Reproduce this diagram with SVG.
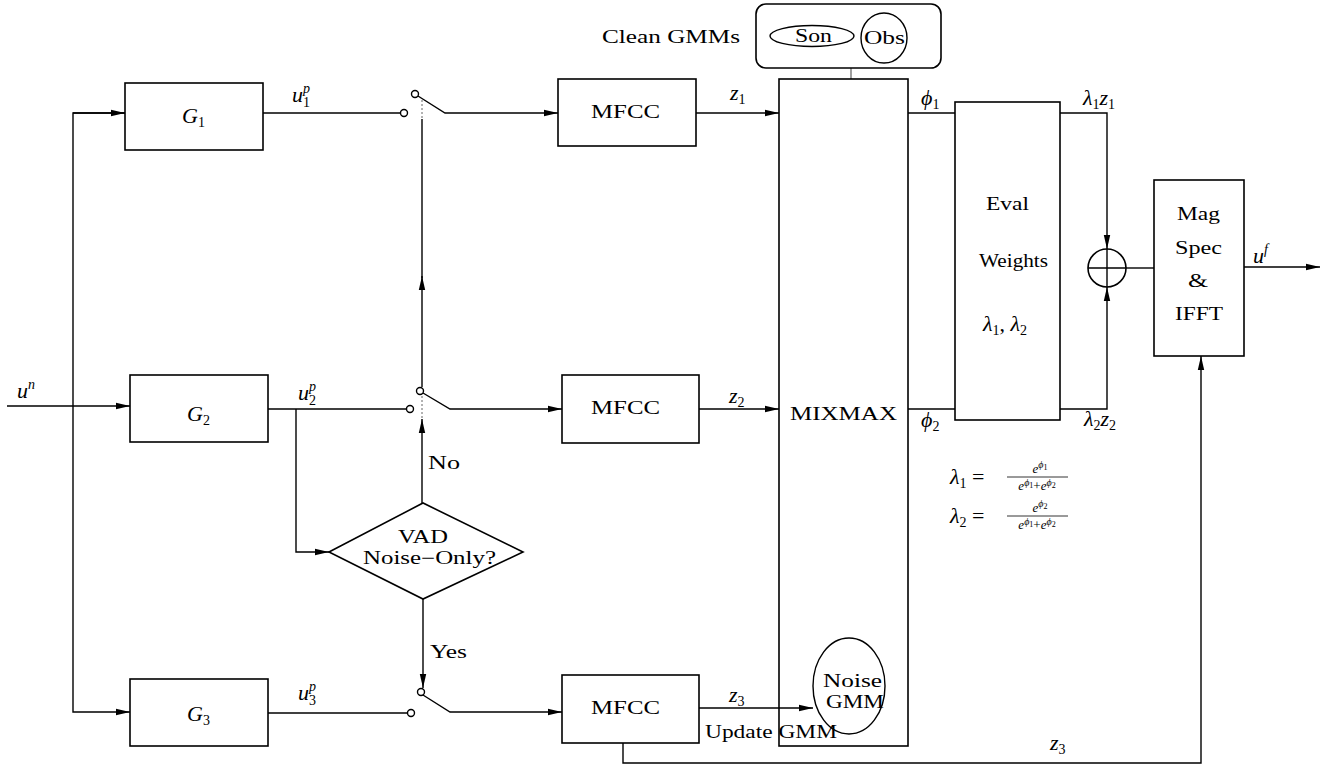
<svg xmlns="http://www.w3.org/2000/svg" width="1332" height="765" viewBox="0 0 1332 765">
<style>
.box{fill:#fff;stroke:#000;stroke-width:1.6}
.ln{fill:none;stroke:#000;stroke-width:1.4}
.t{font-family:"Liberation Serif","DejaVu Serif",serif;font-size:18px;fill:#000}
.m{font-style:italic;font-size:22px}
.s{font-style:normal;font-size:14px}
.si{font-style:italic;font-size:14px}
.f{font-family:"Liberation Serif","DejaVu Serif",serif;font-size:13px;fill:#000}
.fi{font-style:italic}
.fs{font-style:italic;font-size:10px}
.fn{font-style:normal;font-size:8px}
</style>
<defs>
<marker id="ah" viewBox="0 0 14 10" refX="14" refY="5" markerWidth="14" markerHeight="10" markerUnits="userSpaceOnUse" orient="auto"><path d="M0,1.8 L14,5 L0,8.2 z" fill="#000"/></marker>
</defs>
<rect width="1332" height="765" fill="#fff"/>

<g id="connectors">
<path class="ln" d="M7,406 H130" marker-end="url(#ah)"/>
<path class="ln" d="M125,113 H73 V712 H130" marker-end="url(#ah)"/>
<path class="ln" d="M73,113 H125" marker-end="url(#ah)"/>
<path class="ln" d="M263,113 H400"/>
<path class="ln" d="M418,96 L445,113 H558" marker-end="url(#ah)"/>
<path d="M422,100 V119" stroke="#666" stroke-width="1" stroke-dasharray="2,2"/>
<path class="ln" d="M422,387 V276" marker-end="url(#ah)"/>
<path class="ln" d="M422,278 V119"/>
<path class="ln" d="M268,409 H406"/>
<path class="ln" d="M423,393 L450,409 H562" marker-end="url(#ah)"/>
<path d="M422,396 V419" stroke="#666" stroke-width="1" stroke-dasharray="2,2"/>
<path class="ln" d="M296,409 V552 H329" marker-end="url(#ah)"/>
<path class="ln" d="M422,503 V419" marker-end="url(#ah)"/>
<path class="ln" d="M423,599 V688" marker-end="url(#ah)"/>
<path class="ln" d="M268,713 H407"/>
<path class="ln" d="M423,695 L450,712 H562" marker-end="url(#ah)"/>
<path class="ln" d="M696,113 H779" marker-end="url(#ah)"/>
<path class="ln" d="M699,409 H779" marker-end="url(#ah)"/>
<path class="ln" d="M908,113 H955"/>
<path class="ln" d="M908,409 H955"/>
<path class="ln" d="M1060,113 H1107 V249" marker-end="url(#ah)"/>
<path class="ln" d="M1060,409 H1107 V287" marker-end="url(#ah)"/>
<path class="ln" d="M1126,268 H1154"/>
<path class="ln" d="M1244,267 H1320" marker-end="url(#ah)"/>
<path class="ln" d="M623,743 V763 H1201 V356" marker-end="url(#ah)"/>
<path d="M851,68 V79" stroke="#777" stroke-width="1.4"/>
</g>

<g id="G1"><rect class="box" x="125" y="83" width="138" height="67"/><text class="t m" x="182" y="123">G<tspan class="s" dy="4">1</tspan></text></g>
<g id="G2"><rect class="box" x="130" y="375" width="138" height="67"/><text class="t m" x="187" y="421">G<tspan class="s" dy="4">2</tspan></text></g>
<g id="G3"><rect class="box" x="130" y="679" width="138" height="67"/><text class="t m" x="187" y="721">G<tspan class="s" dy="4">3</tspan></text></g>

<g id="switch1"><circle cx="404" cy="113" r="3.5" fill="#fff" stroke="#000" stroke-width="1.4"/><circle cx="415" cy="94" r="3.5" fill="#fff" stroke="#000" stroke-width="1.4"/></g>
<g id="switch2"><circle cx="410" cy="409" r="3.5" fill="#fff" stroke="#000" stroke-width="1.4"/><circle cx="420" cy="391" r="3.5" fill="#fff" stroke="#000" stroke-width="1.4"/></g>
<g id="switch3"><circle cx="411" cy="713" r="3.5" fill="#fff" stroke="#000" stroke-width="1.4"/><circle cx="421" cy="692" r="3.5" fill="#fff" stroke="#000" stroke-width="1.4"/></g>

<g id="MFCC1"><rect class="box" x="558" y="79" width="138" height="67"/><text class="t" x="591" y="118" textLength="69" lengthAdjust="spacingAndGlyphs">MFCC</text></g>
<g id="MFCC2"><rect class="box" x="562" y="375" width="137" height="68"/><text class="t" x="591" y="414" textLength="69" lengthAdjust="spacingAndGlyphs">MFCC</text></g>
<g id="MFCC3"><rect class="box" x="562" y="675" width="137" height="68"/><text class="t" x="591" y="714" textLength="69" lengthAdjust="spacingAndGlyphs">MFCC</text></g>

<g id="cleanGMMs">
<text class="t" x="602" y="43" font-size="19" textLength="138" lengthAdjust="spacingAndGlyphs">Clean GMMs</text>
<rect x="756" y="4" width="185" height="64" rx="10" fill="#fff" stroke="#000" stroke-width="1.6"/>
<ellipse cx="812" cy="36" rx="42" ry="10.5" fill="none" stroke="#000" stroke-width="1.4"/>
<text class="t" x="795" y="42" textLength="37" lengthAdjust="spacingAndGlyphs">Son</text>
<ellipse cx="884" cy="38" rx="23" ry="25" fill="none" stroke="#000" stroke-width="1.4"/>
<text class="t" x="864" y="44" textLength="41" lengthAdjust="spacingAndGlyphs">Obs</text>
</g>

<g id="MIXMAX"><rect class="box" x="779" y="79" width="129" height="667"/><text class="t" x="790" y="420" textLength="107" lengthAdjust="spacingAndGlyphs">MIXMAX</text></g>

<g id="noiseGMM">
<ellipse cx="849" cy="686" rx="36" ry="48" fill="#fff" stroke="#000" stroke-width="1.4"/>
<text class="t" x="823" y="687" textLength="59" lengthAdjust="spacingAndGlyphs">Noise</text>
<text class="t" x="826" y="708" textLength="58" lengthAdjust="spacingAndGlyphs">GMM</text>
</g>
<path class="ln" d="M699,708 H813" marker-end="url(#ah)"/>
<text class="t" x="705" y="738" textLength="132" lengthAdjust="spacingAndGlyphs">Update GMM</text>

<g id="VAD">
<polygon points="329,552 423,503 523,552 423,599" fill="#fff" stroke="#000" stroke-width="1.6"/>
<text class="t" x="398" y="543" textLength="50" lengthAdjust="spacingAndGlyphs">VAD</text>
<text class="t" x="363" y="564" textLength="133" lengthAdjust="spacingAndGlyphs">Noise−Only?</text>
</g>

<g id="eval">
<rect class="box" x="955" y="102" width="105" height="318"/>
<text class="t" x="986" y="210" textLength="43" lengthAdjust="spacingAndGlyphs">Eval</text>
<text class="t" x="979" y="267" textLength="69" lengthAdjust="spacingAndGlyphs">Weights</text>
<text class="t m" x="983" y="331">λ<tspan class="s" dy="4">1</tspan><tspan font-style="normal" dy="-4">,  </tspan>λ<tspan class="s" dy="4">2</tspan></text>
</g>

<g id="sum">
<circle cx="1107" cy="268" r="19" fill="#fff" stroke="#000" stroke-width="1.6"/>
<path d="M1088,268 H1126 M1107,249 V287" stroke="#000" stroke-width="1.4"/>
</g>

<g id="magSpec">
<rect class="box" x="1154" y="180" width="90" height="176"/>
<text class="t" x="1177" y="220" textLength="43" lengthAdjust="spacingAndGlyphs">Mag</text>
<text class="t" x="1175" y="254" textLength="47" lengthAdjust="spacingAndGlyphs">Spec</text>
<text class="t" x="1188" y="287" textLength="20" lengthAdjust="spacingAndGlyphs">&amp;</text>
<text class="t" x="1175" y="320" textLength="48" lengthAdjust="spacingAndGlyphs">IFFT</text>
</g>

<g id="labels">
<text class="t m" x="17" y="398">u<tspan class="si" dy="-9">n</tspan></text>
<text class="t m" x="292" y="102">u<tspan class="si" dy="-9">p</tspan><tspan class="s" dx="-7" dy="14">1</tspan></text>
<text class="t m" x="298" y="400">u<tspan class="si" dy="-9">p</tspan><tspan class="s" dx="-7" dy="14">2</tspan></text>
<text class="t m" x="298" y="700">u<tspan class="si" dy="-9">p</tspan><tspan class="s" dx="-7" dy="14">3</tspan></text>
<text class="t m" x="730" y="100">z<tspan class="s" dy="4">1</tspan></text>
<text class="t m" x="729" y="403">z<tspan class="s" dy="4">2</tspan></text>
<text class="t m" x="729" y="702">z<tspan class="s" dy="4">3</tspan></text>
<text class="t m" x="1050" y="750">z<tspan class="s" dy="4">3</tspan></text>
<text class="t m" x="921" y="105">ϕ<tspan class="s" dy="4">1</tspan></text>
<text class="t m" x="921" y="427">ϕ<tspan class="s" dy="4">2</tspan></text>
<text class="t m" x="1083" y="105">λ<tspan class="s" dy="4">1</tspan><tspan dy="-4">z</tspan><tspan class="s" dy="4">1</tspan></text>
<text class="t m" x="1084" y="426">λ<tspan class="s" dy="4">2</tspan><tspan dy="-4">z</tspan><tspan class="s" dy="4">2</tspan></text>
<text class="t m" x="1253" y="263">u<tspan class="si" dy="-9">f</tspan></text>
<text class="t" x="428" y="469" textLength="32" lengthAdjust="spacingAndGlyphs">No</text>
<text class="t" x="430" y="658" textLength="37" lengthAdjust="spacingAndGlyphs">Yes</text>
</g>

<g id="formulas">
<text class="t m" x="950" y="484">λ<tspan class="s" dy="4">1</tspan><tspan font-style="normal" dy="-4">  =</tspan></text>
<text class="f" x="1040" y="473" text-anchor="middle"><tspan class="fi">e</tspan><tspan class="fs" dy="-5">ϕ</tspan><tspan class="fn" dy="2">1</tspan></text>
<path d="M1007,477 H1068" stroke="#000" stroke-width="0.8"/>
<text class="f" x="1037" y="490" text-anchor="middle"><tspan class="fi">e</tspan><tspan class="fs" dy="-4">ϕ</tspan><tspan class="fn" dy="2">1</tspan><tspan dy="2">+</tspan><tspan class="fi">e</tspan><tspan class="fs" dy="-4">ϕ</tspan><tspan class="fn" dy="2">2</tspan></text>
<text class="t m" x="950" y="523">λ<tspan class="s" dy="4">2</tspan><tspan font-style="normal" dy="-4">  =</tspan></text>
<text class="f" x="1040" y="512" text-anchor="middle"><tspan class="fi">e</tspan><tspan class="fs" dy="-5">ϕ</tspan><tspan class="fn" dy="2">2</tspan></text>
<path d="M1007,516 H1068" stroke="#000" stroke-width="0.8"/>
<text class="f" x="1037" y="529" text-anchor="middle"><tspan class="fi">e</tspan><tspan class="fs" dy="-4">ϕ</tspan><tspan class="fn" dy="2">1</tspan><tspan dy="2">+</tspan><tspan class="fi">e</tspan><tspan class="fs" dy="-4">ϕ</tspan><tspan class="fn" dy="2">2</tspan></text>
</g>
</svg>
